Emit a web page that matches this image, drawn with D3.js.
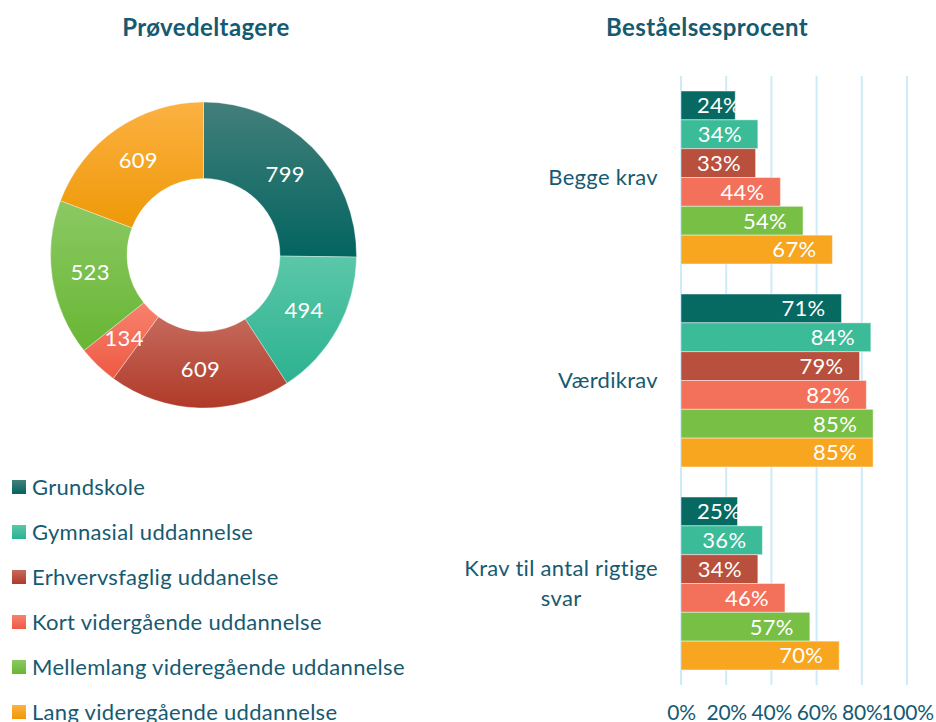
<!DOCTYPE html>
<html>
<head>
<meta charset="utf-8">
<script src="https://cdn.jsdelivr.net/npm/d3@7"></script>
<style>
  body { margin: 0; background: #fff; }
  svg { display: block; font-family: Lato, sans-serif; }
  .lbl { font-size: 22px; letter-spacing: 0.3px; }
  .tick text { font-size: 21px; letter-spacing: -0.2px; }
</style>
</head>
<body>
<div id="chart"></div>
<script>
// categories (education levels)
var levels = ["Grundskole", "Gymnasial uddannelse", "Erhvervsfaglig uddanelse",
  "Kort vidergående uddannelse", "Mellemlang videregående uddannelse", "Lang videregående uddannelse"];
// participants per level (donut)
var participants = [799, 494, 609, 134, 523, 609];
// pass rate groups
var requirements = ["Begge krav", "Værdikrav", "Krav til antal rigtige svar"];
var passBegge = [24, 34, 33, 44, 54, 67];
var passVaerdi = [71, 84, 79, 82, 85, 85];
var passAntal = [25, 36, 34, 46, 57, 70];
var xTicks = [0, 20, 40, 60, 80, 100];

var barColors = ["#066a63", "#3bbb98", "#b8503d", "#f3705a", "#77bf45", "#f8a51f"];
var lightColors = ["#437f7a", "#5ac7a8", "#c56a5c", "#f7826e", "#8bc963", "#fcb142"];
var darkColors = ["#036460", "#2cb291", "#b03a29", "#ee5943", "#68b634", "#ee9907"];
var textColor = "#165a71";

var width = 936, height = 722;

var svg = d3.select("#chart").append("svg")
  .attr("width", width)
  .attr("height", height);

var defs = svg.append("defs");
levels.forEach(function (d, i) {
  var g = defs.append("linearGradient")
    .attr("id", "grad" + i)
    .attr("x1", 0).attr("y1", 0).attr("x2", 0).attr("y2", 1);
  g.append("stop").attr("offset", "0%").attr("stop-color", lightColors[i]);
  g.append("stop").attr("offset", "100%").attr("stop-color", darkColors[i]);
});

// Titles
svg.append("text")
  .attr("x", 206).attr("y", 36)
  .attr("text-anchor", "middle")
  .style("font-weight", "bold").style("font-size", "24px").style("letter-spacing", "0.4px")
  .attr("fill", textColor)
  .text("Prøvedeltagere");

svg.append("text")
  .attr("x", 707).attr("y", 36)
  .attr("text-anchor", "middle")
  .style("font-weight", "bold").style("font-size", "24px").style("letter-spacing", "0.4px")
  .attr("fill", textColor)
  .text("Beståelsesprocent");

// Donut
var cx = 203.5, cy = 255, outerR = 153, innerR = 76.5;
var pie = d3.pie().sort(null).value(function (d) { return d; });
var arc = d3.arc().innerRadius(innerR).outerRadius(outerR);

var donut = svg.append("g")
  .attr("transform", "translate(" + cx + "," + cy + ")");

var slices = donut.selectAll(".slice")
  .data(pie(participants))
  .enter().append("g")
  .attr("class", "slice");

slices.append("path")
  .attr("d", arc)
  .attr("fill", function (d, i) { return "url(#grad" + i + ")"; })
  .attr("stroke", "#fff")
  .attr("stroke-opacity", 0.5)
  .attr("stroke-width", 0.7);

slices.append("text")
  .attr("class", "lbl")
  .attr("transform", function (d) { return "translate(" + arc.centroid(d) + ")"; })
  .attr("text-anchor", "middle")
  .attr("dy", "0.35em")
  .attr("fill", "#fff")
  .text(function (d) { return d.data; });

// Legend
var legend = svg.append("g").attr("class", "legend");
var legendItem = legend.selectAll("g")
  .data(levels)
  .enter().append("g")
  .attr("transform", function (d, i) { return "translate(12," + (487 + i * 45) + ")"; });

legendItem.append("rect")
  .attr("x", 0).attr("y", -7)
  .attr("width", 14).attr("height", 14)
  .attr("fill", function (d, i) { return "url(#grad" + i + ")"; });

legendItem.append("text")
  .attr("class", "lbl")
  .attr("x", 20)
  .attr("dy", "0.35em")
  .attr("fill", textColor)
  .text(function (d) { return d; });

// Bar chart
var plotLeft = 681, plotRight = 907, plotTop = 76, plotBottom = 685;
var passData = [passBegge, passVaerdi, passAntal];

var x = d3.scaleLinear().domain([0, 100]).range([plotLeft, plotRight]);
var y0 = d3.scaleBand().domain(requirements)
  .range([plotTop, plotBottom])
  .paddingInner(0.148).paddingOuter(0.074);
var y1 = d3.scaleBand().domain(d3.range(levels.length))
  .range([0, y0.bandwidth()]);

// gridlines
svg.append("g")
  .selectAll("line")
  .data(xTicks)
  .enter().append("line")
  .attr("x1", function (d) { return x(d); })
  .attr("x2", function (d) { return x(d); })
  .attr("y1", plotTop).attr("y2", plotBottom)
  .attr("stroke", "#cdebf8")
  .attr("stroke-width", 2);

// x axis labels
var xAxis = d3.axisBottom(x)
  .tickValues(xTicks)
  .tickSize(0)
  .tickPadding(0)
  .tickFormat(function (d) { return d + "%"; });

svg.append("g")
  .attr("transform", "translate(0,705)")
  .call(xAxis)
  .call(function (g) { g.select(".domain").remove(); })
  .call(function (g) {
    g.selectAll("text")
      .attr("dy", "0.71em")
      .style("font-family", "Lato, sans-serif")
      .attr("fill", textColor);
  });

// groups
var group = svg.selectAll(".group")
  .data(requirements)
  .enter().append("g")
  .attr("class", "group")
  .attr("transform", function (d) { return "translate(0," + y0(d) + ")"; });

var bars = group.selectAll(".bar")
  .data(function (d, gi) {
    return passData[gi].map(function (v, i) { return { i: i, value: v }; });
  })
  .enter().append("g")
  .attr("class", "bar");

bars.append("rect")
  .attr("x", x(0))
  .attr("y", function (d) { return y1(d.i); })
  .attr("width", function (d) { return x(d.value) - x(0); })
  .attr("height", y1.bandwidth())
  .attr("fill", function (d) { return barColors[d.i]; })
  .attr("stroke", "#fff")
  .attr("stroke-opacity", 0.45)
  .attr("stroke-width", 1);

bars.append("text")
  .attr("class", "lbl")
  .attr("y", function (d) { return y1(d.i) + y1.bandwidth() / 2; })
  .attr("dy", "0.36em")
  .attr("fill", "#fff")
  .text(function (d) { return d.value + "%"; })
  .attr("x", function (d) {
    var w = this.getComputedTextLength();
    return Math.max(x(d.value) - 16 - w, x(0) + 16);
  });

// category labels, right edge near 658, lines centered in the block
var labelRight = 658, lineH = 30, maxLabelW = 205;
var catLabels = svg.append("g").attr("class", "categories");
requirements.forEach(function (name) {
  var t = catLabels.append("text")
    .attr("class", "lbl")
    .attr("text-anchor", "middle")
    .attr("fill", textColor);
  // wrap words
  var words = name.split(" "), lines = [], line = [];
  var probe = t.append("tspan");
  words.forEach(function (w) {
    line.push(w);
    probe.text(line.join(" "));
    if (probe.node().getComputedTextLength() > maxLabelW && line.length > 1) {
      line.pop();
      lines.push(line.join(" "));
      line = [w];
    }
  });
  lines.push(line.join(" "));
  probe.remove();
  var widths = lines.map(function (l) {
    var s = t.append("tspan").text(l);
    var wl = s.node().getComputedTextLength();
    s.remove();
    return wl;
  });
  var blockW = d3.max(widths);
  var midY = y0(name) + y0.bandwidth() / 2;
  lines.forEach(function (l, k) {
    t.append("tspan")
      .attr("x", labelRight - blockW / 2)
      .attr("y", midY + (k - (lines.length - 1) / 2) * lineH)
      .attr("dy", "0.35em")
      .text(l);
  });
});
</script>
</body>
</html>
